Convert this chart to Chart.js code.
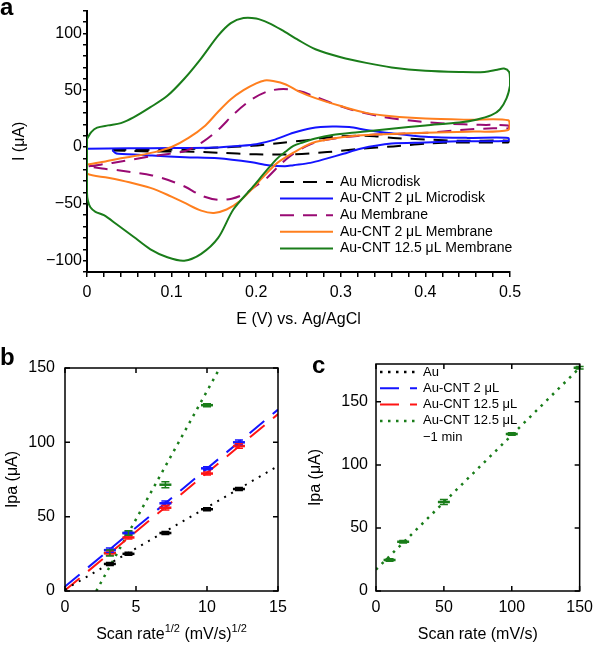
<!DOCTYPE html>
<html>
<head>
<meta charset="utf-8">
<script src="https://cdn.jsdelivr.net/npm/chart.js@4.4.1/dist/chart.umd.min.js"></script>
<style>
body { margin: 0; background: #fff; width: 600px; height: 645px; position: relative; overflow: hidden;
       font-family: 'Liberation Sans', Arial, Helvetica, sans-serif; }
canvas { position: absolute; }
.panel { position: absolute; font-weight: bold; font-size: 24px; line-height: 24px; }
#titleB { position: absolute; left: 65px; width: 213px; top: 624px; text-align: center; font-size: 16px; line-height: 20px; }
#titleB sup { font-size: 11px; line-height: 0; vertical-align: 7px; }
</style>
</head>
<body>
<canvas id="chartA" width="600" height="330" style="left:0;top:0"></canvas>
<canvas id="chartB" width="300" height="325" style="left:0;top:320px"></canvas>
<canvas id="chartC" width="300" height="325" style="left:300px;top:320px"></canvas>
<div class="panel" style="left:0;top:-5px">a</div>
<div class="panel" style="left:0;top:345px">b</div>
<div class="panel" style="left:312px;top:353px">c</div>
<div id="titleB">Scan rate<sup>1/2</sup> (mV/s)<sup>1/2</sup></div>

<script>
// ---- panel a : cyclic voltammograms (E in V, I in uA) ----
var cvLabels = ['Au Microdisk', 'Au-CNT 2 μL Microdisk', 'Au Membrane', 'Au-CNT 2 μL Membrane', 'Au-CNT 12.5 μL Membrane'];

var auMicroE = [0.03, 0.077, 0.116, 0.155, 0.195, 0.234, 0.26, 0.28, 0.3, 0.323, 0.34, 0.362, 0.402, 0.441, 0.498,
                0.498, 0.441, 0.402, 0.362, 0.323, 0.284, 0.244, 0.2, 0.155, 0.116, 0.077, 0.03];
var auMicroI = [-2.5, -2.5, -2, -0.5, 1, 4, 6, 8, 9.5, 10, 9.5, 8, 6.5, 5.5, 5.5,
                4, 4, 3, 0.5, -1.5, -4.5, -6.5, -6.5, -5, -4, -4, -3];

var cntMicroE = [0, 0.05, 0.1, 0.15, 0.18, 0.2, 0.22, 0.244, 0.265, 0.29, 0.31, 0.33, 0.36, 0.4, 0.45, 0.498,
                 0.498, 0.44, 0.4, 0.36, 0.323, 0.303, 0.284, 0.264, 0.244, 0.234, 0.214, 0.195, 0.155, 0.116, 0.077, 0.037, 0.033, 0.03];
var cntMicroI = [-1.5, -1.2, -1, -0.5, 1, 2.5, 6, 12.5, 16.5, 18, 17.5, 15, 12, 9, 8, 8,
                 5.5, 5, 4, 3, -1.5, -6, -10, -14, -16, -17, -16, -13.5, -10, -9, -7.5, -6, -5, -2.5];

var auMembE = [0.002, 0.03, 0.077, 0.116, 0.136, 0.155, 0.175, 0.195, 0.214, 0.232, 0.252, 0.267, 0.307, 0.346, 0.385, 0.426, 0.465, 0.498,
               0.498, 0.48, 0.441, 0.402, 0.362, 0.323, 0.28, 0.26, 0.24, 0.225, 0.213, 0.2, 0.187, 0.171, 0.155, 0.136, 0.116, 0.096, 0.077, 0.037, 0.018, 0.002];
var auMembI = [-17, -14, -8, -3.5, 4, 15, 30, 42, 49, 51, 49, 45, 34, 27, 23, 20.5, 19.5, 19,
               16.5, 16.5, 15, 12.5, 11.5, 10, 6, 1, -8, -18, -27, -34, -41, -45.5, -46.5, -43, -35, -29, -25, -20.5, -19, -17];

var cnt2MembE = [0, 0.02, 0.04, 0.06, 0.08, 0.1, 0.12, 0.14, 0.155, 0.17, 0.185, 0.2, 0.21, 0.22, 0.235, 0.25, 0.27, 0.3, 0.33, 0.36, 0.4, 0.45, 0.498,
                 0.498, 0.45, 0.4, 0.36, 0.32, 0.28, 0.264, 0.244, 0.225, 0.21, 0.195, 0.18, 0.165, 0.15, 0.135, 0.115, 0.095, 0.075, 0.05, 0.025, 0, 0];
var cnt2MembI = [-15.5, -13, -10, -7.5, -4.5, 0, 8, 19, 31, 42, 50, 56, 58.5, 58, 55, 49, 43, 36, 30, 27, 25, 24, 23.5,
                 15, 13.5, 12.5, 11.5, 10, 6, 3, -5, -14, -25, -37, -48, -55, -58, -56, -49, -42, -36, -31, -27, -23.5, -15.5];

var cnt125MembE = [0, 0.005, 0.012, 0.025, 0.04, 0.055, 0.075, 0.095, 0.115, 0.135, 0.155, 0.17, 0.185, 0.2, 0.215, 0.23, 0.25, 0.27, 0.3, 0.33, 0.36, 0.4, 0.44, 0.47, 0.485, 0.493, 0.499, 0.5,
                   0.5, 0.496, 0.488, 0.478, 0.46, 0.44, 0.4, 0.36, 0.32, 0.29, 0.27, 0.255, 0.244, 0.235, 0.225, 0.213, 0.195, 0.173, 0.155, 0.135, 0.115, 0.095, 0.075, 0.055, 0.035, 0.02, 0.01, 0.004, 0.001, 0, 0];
var cnt125MembI = [7, 13, 17, 19, 21, 26, 35, 45, 60, 78, 98, 109, 113.5, 113, 109, 103, 94, 86, 79, 74, 70, 67, 66, 66, 68, 69, 66, 60,
                   54, 43, 33, 28, 24, 21.5, 19, 16, 13, 10.5, 7.5, 4, 1, -4, -10, -20, -36, -55, -80, -94, -100, -97, -90, -79, -68, -60, -57, -53, -47, -40, 7];

// ---- panels b and c : peak anodic current ----
var sqrtRate = [3.16, 4.47, 7.07, 10, 12.25];
var ipaAu = [18.2, 25, 39, 55, 68.6];
var ipaCnt2 = [27.5, 39, 59, 82.5, 100];
var ipaCnt125 = [25.5, 36, 56, 79, 97.5];
var ipaFast = [25.5, 39, 71.5, 125];
var errAu = [1, 1, 1, 1, 1];
var errCnt2 = [1.5, 1, 1.5, 1, 1.5];
var errCnt125 = [1.5, 1, 1.5, 1, 1.5];
var errFast = [2, 1.5, 2, 1];

var fitSqrtX = [0, 15];
var fitAu = [1, 84];
var fitCnt2 = [3, 122];
var fitCnt125 = [0.5, 119];
var fitFastX = [2.2, 10.9];
var fitFast = [0, 150];

var scanRate = [10, 20, 50, 100, 150];
var ipaFastC = [24.6, 39, 70.6, 124.5, 177];
var errFastC = [1, 1, 2, 1, 1];
var fitRateX = [0, 150];
var fitFastC = [17, 177];

var seriesLabels = ['Au', 'Au-CNT 2 μL', 'Au-CNT 12.5 μL', 'Au-CNT 12.5 μL'];
var noteFast = '\u22121 min';

var BLACK = '#000000', BLUE = '#1414ff', PURPLE = '#990a73', ORANGE = '#ff7f1e', GREEN = '#1a7d1a', RED = '#ff1414';
var FONT = "'Liberation Sans', Arial, Helvetica, sans-serif";

Chart.defaults.font.family = FONT;
Chart.defaults.font.size = 16;
Chart.defaults.color = '#000';
Chart.defaults.animation = false;

function pts(xs, ys) {
    return xs.map(function (x, i) { return { x: x, y: ys[i] }; });
}
function num(v) {
    return v < 0 ? '\u2212' + Math.abs(v) : String(v);
}

// legend drawn inside the plot, lines with the dataset dash styles
var sampleLegend = {
    id: 'sampleLegend',
    afterDatasetsDraw: function (chart, args, opts) {
        if (!opts || opts.x === undefined) return;
        var ctx = chart.ctx, y = opts.y;
        ctx.save();
        ctx.font = opts.font;
        ctx.textBaseline = 'middle';
        ctx.fillStyle = '#000';
        chart.data.datasets.forEach(function (ds) {
            if (!ds.inLegend) return;
            ctx.strokeStyle = ds.borderColor;
            ctx.lineWidth = ds.borderWidth;
            ctx.lineCap = 'butt';
            ctx.setLineDash(ds.borderDash || []);
            ctx.beginPath();
            ctx.moveTo(opts.x, y);
            ctx.lineTo(opts.x + opts.len, y);
            ctx.stroke();
            ctx.setLineDash([]);
            ctx.fillText(ds.label, opts.x + opts.len + opts.gap, y);
            y += opts.dy;
            if (ds.note) {
                ctx.fillText(ds.note, opts.x + opts.len + opts.gap, y);
                y += opts.dy;
            }
        });
        ctx.restore();
    }
};

// vertical error bars with caps
var errorBars = {
    id: 'errorBars',
    afterDatasetsDraw: function (chart) {
        var ctx = chart.ctx, xs = chart.scales.x, ys = chart.scales.y;
        ctx.save();
        chart.data.datasets.forEach(function (ds) {
            if (!ds.errs) return;
            ctx.strokeStyle = ds.borderColor;
            ctx.lineWidth = 1.5;
            ds.data.forEach(function (p, i) {
                var px = xs.getPixelForValue(p.x);
                var top = ys.getPixelForValue(p.y + ds.errs[i]);
                var bot = ys.getPixelForValue(p.y - ds.errs[i]);
                ctx.beginPath();
                ctx.moveTo(px, top); ctx.lineTo(px, bot);
                ctx.moveTo(px - 4, top); ctx.lineTo(px + 4, top);
                ctx.moveTo(px - 4, bot); ctx.lineTo(px + 4, bot);
                ctx.stroke();
            });
        });
        ctx.restore();
    }
};

// closed frame with inward ticks on all four sides
var boxTicks = {
    id: 'boxTicks',
    afterDraw: function (chart, args, opts) {
        if (!opts || !opts.len) return;
        var a = chart.chartArea, ctx = chart.ctx, len = opts.len;
        var xs = chart.scales.x, ys = chart.scales.y;
        ctx.save();
        ctx.strokeStyle = '#000';
        ctx.lineWidth = 1.5;
        ctx.strokeRect(a.left, a.top, a.right - a.left, a.bottom - a.top);
        ctx.beginPath();
        xs.ticks.forEach(function (t) {
            var px = xs.getPixelForValue(t.value);
            ctx.moveTo(px, a.bottom); ctx.lineTo(px, a.bottom - len);
            ctx.moveTo(px, a.top); ctx.lineTo(px, a.top + len);
        });
        ys.ticks.forEach(function (t) {
            var py = ys.getPixelForValue(t.value);
            ctx.moveTo(a.left, py); ctx.lineTo(a.left + len, py);
            ctx.moveTo(a.right, py); ctx.lineTo(a.right - len, py);
        });
        ctx.stroke();
        ctx.restore();
    }
};

Chart.register(sampleLegend, errorBars, boxTicks);

function cvSet(label, es, is, color, dash, order) {
    return {
        label: label, data: pts(es, is), showLine: true, pointRadius: 0,
        borderColor: color, backgroundColor: color, borderWidth: 2,
        borderDash: dash, tension: 0.3, fill: false, order: order, inLegend: true
    };
}

new Chart(document.getElementById('chartA'), {
    type: 'scatter',
    data: {
        datasets: [
            cvSet(cvLabels[0], auMicroE, auMicroI, BLACK, [14, 9], 5),
            cvSet(cvLabels[1], cntMicroE, cntMicroI, BLUE, [], 4),
            cvSet(cvLabels[2], auMembE, auMembI, PURPLE, [14, 9], 3),
            cvSet(cvLabels[3], cnt2MembE, cnt2MembI, ORANGE, [], 2),
            cvSet(cvLabels[4], cnt125MembE, cnt125MembI, GREEN, [], 1)
        ]
    },
    options: {
        responsive: false,
        layout: { padding: { left: 0, right: 90, top: 8, bottom: 0 } },
        plugins: {
            legend: { display: false },
            tooltip: { enabled: false },
            sampleLegend: { x: 280, y: 182, dy: 16.6, len: 53, gap: 7, font: '14px ' + FONT }
        },
        scales: {
            x: {
                type: 'linear', min: 0, max: 0.5,
                afterFit: function (s) { s.height = 58; },
                ticks: {
                    stepSize: 0.02, autoSkip: false, maxRotation: 0, padding: 6,
                    callback: function (v) {
                        if (Math.abs(v * 10 - Math.round(v * 10)) > 1e-6) return '';
                        return v === 0 ? '0' : (Math.round(v * 10) / 10).toFixed(1);
                    }
                },
                grid: { drawOnChartArea: false, tickLength: 5, color: '#000', lineWidth: 1.5 },
                border: { color: '#000', width: 2 },
                title: { display: true, text: 'E (V) vs. Ag/AgCl', padding: { top: 0, bottom: 1 } }
            },
            y: {
                min: -110, max: 120,
                afterFit: function (s) { s.width = 87; },
                ticks: {
                    stepSize: 10, autoSkip: false, padding: 1,
                    callback: function (v) { return v % 50 === 0 ? num(v) : ''; }
                },
                grid: { drawOnChartArea: false, tickLength: 4, color: '#000', lineWidth: 1.5 },
                border: { color: '#000', width: 2 },
                title: { display: true, text: 'I (μA)', padding: { top: 10, bottom: 0 } }
            }
        }
    }
});

function markerSet(label, xs, ys, errs, color) {
    return {
        label: label, data: pts(xs, ys), errs: errs, showLine: false,
        pointStyle: 'line', pointRadius: 6, pointBorderWidth: 2.5,
        borderColor: color, backgroundColor: color, order: 0
    };
}
function fitSet(label, xs, ys, color, dash, width, legend) {
    return {
        label: label, data: pts(xs, ys), showLine: true, pointRadius: 0,
        borderColor: color, backgroundColor: color, borderWidth: width,
        borderDash: dash, order: 1, inLegend: legend
    };
}

function frameScales(xMax, xStep, yMax, yStep, yWidth, yTitlePad, xTitle) {
    return {
        x: {
            type: 'linear', min: 0, max: xMax,
            afterFit: function (s) { s.height = 54; },
            ticks: { stepSize: xStep, includeBounds: false, maxRotation: 0, padding: 7 },
            grid: { display: false, drawTicks: false },
            border: { display: false },
            title: { display: !!xTitle, text: xTitle || '', padding: { top: 0, bottom: 1 } }
        },
        y: {
            min: 0, max: yMax,
            afterFit: function (s) { s.width = yWidth; },
            ticks: { stepSize: yStep, includeBounds: false, padding: yWidth === 65 ? 10 : 8 },
            grid: { display: false, drawTicks: false },
            border: { display: false },
            title: { display: true, text: 'Ipa (μA)', padding: { top: yTitlePad, bottom: 0 } }
        }
    };
}

new Chart(document.getElementById('chartB'), {
    type: 'scatter',
    data: {
        datasets: [
            markerSet(seriesLabels[0], sqrtRate, ipaAu, errAu, BLACK),
            markerSet(seriesLabels[1], sqrtRate, ipaCnt2, errCnt2, BLUE),
            markerSet(seriesLabels[2], sqrtRate, ipaCnt125, errCnt125, RED),
            markerSet(seriesLabels[3], sqrtRate.slice(0, ipaFast.length), ipaFast, errFast, GREEN),
            fitSet(seriesLabels[0], fitSqrtX, fitAu, BLACK, [2, 6], 2, false),
            fitSet(seriesLabels[1], fitSqrtX, fitCnt2, BLUE, [19, 11], 2, false),
            fitSet(seriesLabels[2], fitSqrtX, fitCnt125, RED, [19, 11], 2, false),
            fitSet(seriesLabels[3], fitFastX, fitFast, GREEN, [2.5, 5.5], 2.5, false)
        ]
    },
    options: {
        responsive: false,
        layout: { padding: { left: 0, right: 22, top: 48, bottom: 0 } },
        plugins: { legend: { display: false }, tooltip: { enabled: false }, boxTicks: { len: 5 } },
        scales: frameScales(15, 5, 150, 50, 65, 3, '')
    }
});

var fastFitC = fitSet(seriesLabels[3], fitRateX, fitFastC, GREEN, [2.5, 5.5], 2.5, true);
fastFitC.note = noteFast;

new Chart(document.getElementById('chartC'), {
    type: 'scatter',
    data: {
        datasets: [
            fitSet(seriesLabels[0], [], [], BLACK, [2.5, 5.5], 2.5, true),
            fitSet(seriesLabels[1], [], [], BLUE, [19, 11], 2, true),
            fitSet(seriesLabels[2], [], [], RED, [19, 11], 2, true),
            fastFitC,
            markerSet(seriesLabels[3], scanRate, ipaFastC, errFastC, GREEN)
        ]
    },
    options: {
        responsive: false,
        layout: { padding: { left: 0, right: 13, top: 44, bottom: 0 } },
        plugins: {
            legend: { display: false }, tooltip: { enabled: false }, boxTicks: { len: 5 },
            sampleLegend: { x: 80, y: 52, dy: 16.3, len: 37, gap: 6, font: '13px ' + FONT }
        },
        scales: frameScales(150, 50, 180, 50, 76, 6, 'Scan rate (mV/s)')
    }
});
</script>
</body>
</html>
